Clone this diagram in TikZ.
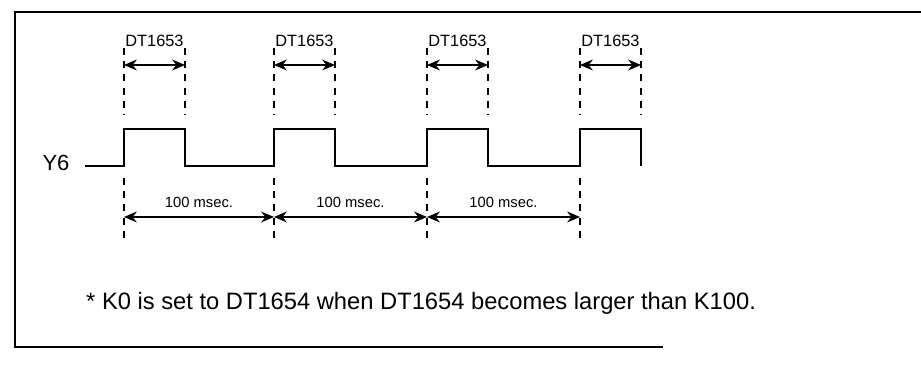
\documentclass[tikz,border=0pt]{standalone}
\usepackage{fontspec}
\setmainfont{Liberation Sans}
\usetikzlibrary{arrows.meta, positioning}

\begin{document}
\begin{tikzpicture}[x=0.02cm, y=-0.02cm,
    frame/.style={line width=0.6pt},
    sig/.style={line width=1.7pt, line join=miter},
    guide/.style={line width=0.6pt, dash pattern=on 4pt off 3.5pt},
    dim/.style={{Stealth[length=2.6mm, width=2.2mm, inset=0.9mm]}-{Stealth[length=2.6mm, width=2.2mm, inset=0.9mm]}, line width=0.6pt},
    lbl/.style={font=\fontsize{9.3}{10}\selectfont, inner sep=1pt},
    per/.style={font=\fontsize{8.4}{9}\selectfont, inner sep=1pt}]

\useasboundingbox (0,0) rectangle (921,365);

% frame (open on the right)
\coordinate (tl) at (15,12);
\coordinate (tr) at (921,12);
\coordinate (bl) at (15,347);
\coordinate (br) at (663,347);
\draw[frame] (tr) -- (tl) -- (bl) -- (br);

% pulse edges
\foreach \i/\x in {1/124, 2/274, 3/427, 4/580} {
  \coordinate (r\i) at (\x,166);
  \coordinate (f\i) at (\x+61,166);
  % guides above the pulse
  \draw[guide] (\x,48) -- (\x,114);
  \draw[guide] (\x+61,48) -- (\x+61,114);
  % guide below the rising edge
  \draw[guide] (\x,178) -- (\x,242);
  \coordinate (a\i) at (\x,65);
  \coordinate (b\i) at (\x+61,65);
  \coordinate (d\i) at (\x,217);
}

% signal
\node[font=\fontsize{12.5}{14}\selectfont] (y6) at (56,163) {Y6};
\coordinate (s0) at (85,166);
\draw[sig] (s0) -- (r1) -- ++(0,-37) -| (f1) -- (r2) -- ++(0,-37) -| (f2)
  -- (r3) -- ++(0,-37) -| (f3) -- (r4) -- ++(0,-37) -| (f4);

% pulse widths
\foreach \i in {1,...,4} {
  \draw[dim] (a\i) -- node[lbl, above=9pt] (w\i) {DT1653} (b\i);
}

% periods
\draw[dim] (d1) -- node[per, above=4pt] (p1) {100 msec.} (d2);
\draw[dim] (d2) -- node[per, above=4pt] (p2) {100 msec.} (d3);
\draw[dim] (d3) -- node[per, above=4pt] (p3) {100 msec.} (d4);

% note
\node[font=\fontsize{13.5}{15}\selectfont, anchor=west] (note) at (80,303)
  {* K0 is set to DT1654 when DT1654 becomes larger than K100.};
\end{tikzpicture}
\end{document}
